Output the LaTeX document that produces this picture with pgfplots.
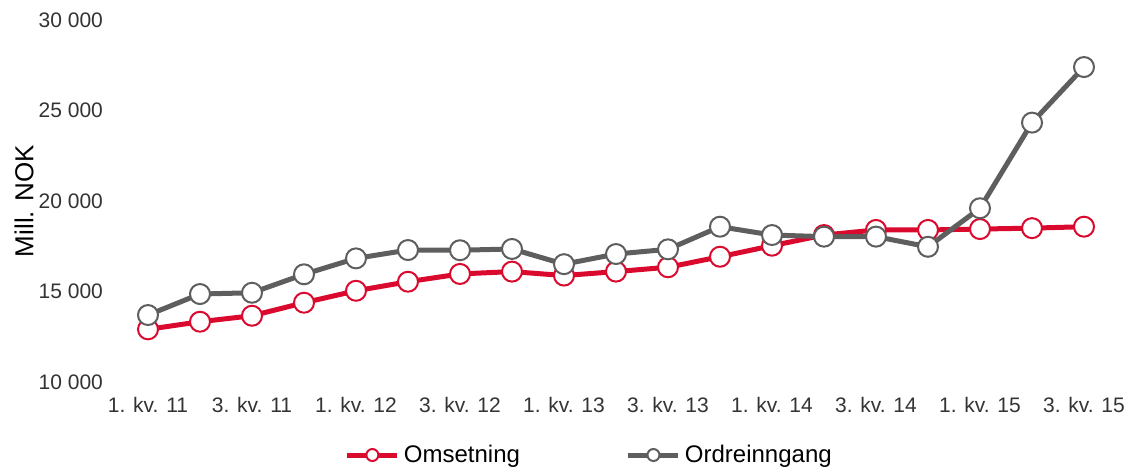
\documentclass[border=0pt]{standalone}
\usepackage{fontspec}
\setmainfont{Liberation Sans}
\usepackage{pgfplots}
\pgfplotsset{compat=1.18}
\definecolor{omsred}{HTML}{DA0A2F}
\definecolor{ordgray}{HTML}{5E5E5E}
\begin{document}
\begin{tikzpicture}
\useasboundingbox (0,0) rectangle (564pt,233pt);
\begin{axis}[
  at={(61pt,42pt)}, anchor=south west,
  scale only axis, width=494pt, height=181pt,
  xmin=-0.5, xmax=18.5, ymin=10000, ymax=30000,
  scaled y ticks=false,
  axis line style={draw=none},
  major tick length=0pt,
  xtick={0,2,...,18},
  xticklabels={1. kv. 11,3. kv. 11,1. kv. 12,3. kv. 12,1. kv. 13,3. kv. 13,1. kv. 14,3. kv. 14,1. kv. 15,3. kv. 15},
  ytick={10000,15000,20000,25000,30000},
  yticklabels={10 000,15 000,20 000,25 000,30 000},
  ticklabel style={font=\fontsize{10.5}{12}\selectfont, text=black!80},
  xticklabel style={yshift=-4pt},
  yticklabel style={xshift=-6pt},
  ylabel={Mill. NOK},
  ylabel style={at={(axis description cs:-0.0992,0.5)}, anchor=center, font=\fontsize{13}{15}\selectfont},
  clip=false,
  legend columns=2,
  legend style={draw=none, at={(0.474,-0.2017)}, anchor=center, font=\fontsize{12}{14}\selectfont,
    /tikz/every even column/.append style={column sep=51pt}},
  legend cell align=left,
  legend image code/.code={\draw[mark repeat=2,mark phase=2,mark size=3pt] plot coordinates {(0pt,0pt) (12.5pt,0pt) (25pt,0pt)};},
]
\addplot[omsred, line width=2.5pt, mark=*, mark size=5pt, mark options={fill=white, draw=omsred, line width=1pt}]
coordinates {(0,12910) (1,13330) (2,13660) (3,14380) (4,15040) (5,15540) (6,15970) (7,16100) (8,15880) (9,16100) (10,16340) (11,16920) (12,17530) (13,18120) (14,18400) (15,18400) (16,18450) (17,18500) (18,18580)};
\addlegendentry{Omsetning}
\addplot[ordgray, line width=2.5pt, mark=*, mark size=5pt, mark options={fill=white, draw=ordgray, line width=1pt}]
coordinates {(0,13700) (1,14860) (2,14930) (3,15950) (4,16830) (5,17290) (6,17280) (7,17350) (8,16510) (9,17070) (10,17330) (11,18580) (12,18120) (13,18030) (14,18030) (15,17470) (16,19600) (17,24330) (18,27400)};
\addlegendentry{Ordreinngang}
\end{axis}
\end{tikzpicture}
\end{document}
